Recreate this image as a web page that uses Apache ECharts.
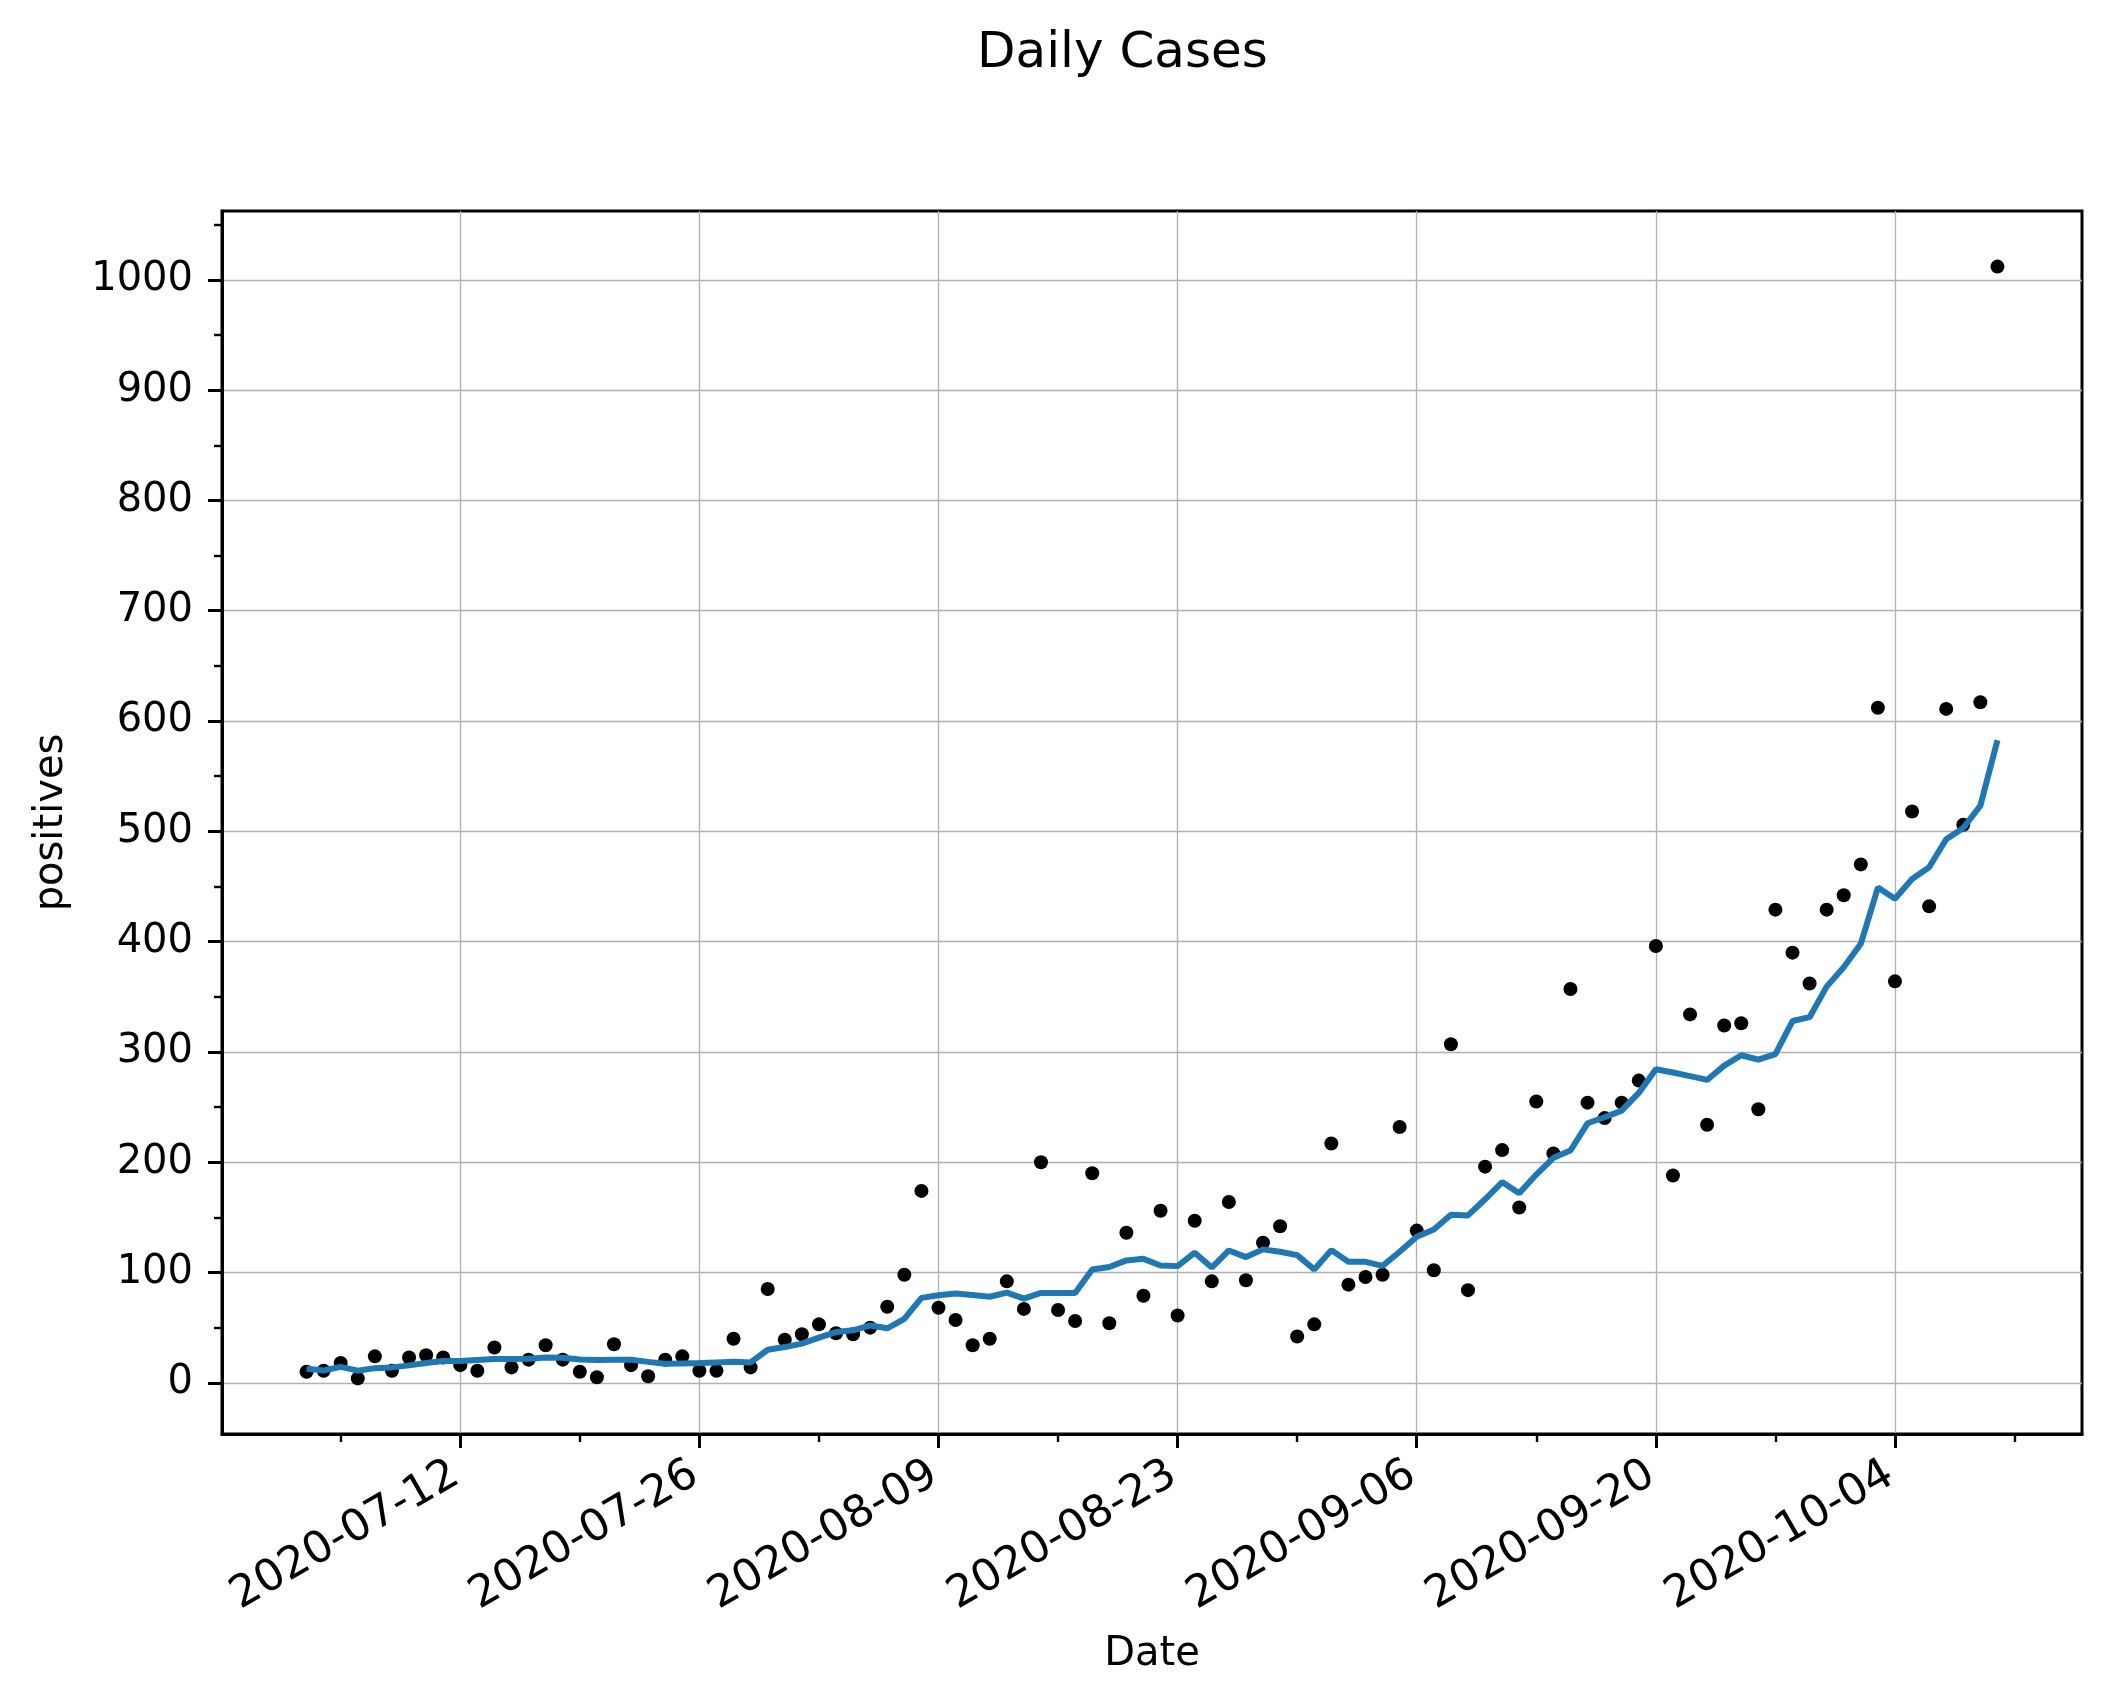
<!DOCTYPE html>
<html>
<head>
<meta charset="utf-8">
<script src="https://cdn.jsdelivr.net/npm/echarts@6/dist/echarts.min.js"></script>
<style>html,body{margin:0;padding:0;background:#fff}#c{width:2111px;height:1705px}</style>
</head>
<body>
<div id="c"></div>
<script>
const dates = [
'2020-07-03','2020-07-04','2020-07-05','2020-07-06','2020-07-07','2020-07-08','2020-07-09','2020-07-10','2020-07-11','2020-07-12',
'2020-07-13','2020-07-14','2020-07-15','2020-07-16','2020-07-17','2020-07-18','2020-07-19','2020-07-20','2020-07-21','2020-07-22',
'2020-07-23','2020-07-24','2020-07-25','2020-07-26','2020-07-27','2020-07-28','2020-07-29','2020-07-30','2020-07-31',
'2020-08-01','2020-08-02','2020-08-03','2020-08-04','2020-08-05','2020-08-06','2020-08-07','2020-08-08','2020-08-09','2020-08-10',
'2020-08-11','2020-08-12','2020-08-13','2020-08-14','2020-08-15','2020-08-16','2020-08-17','2020-08-18','2020-08-19','2020-08-20',
'2020-08-21','2020-08-22','2020-08-23','2020-08-24','2020-08-25','2020-08-26','2020-08-27','2020-08-28','2020-08-29','2020-08-30',
'2020-08-31',
'2020-09-01','2020-09-02','2020-09-03','2020-09-04','2020-09-05','2020-09-06','2020-09-07','2020-09-08','2020-09-09','2020-09-10',
'2020-09-11','2020-09-12','2020-09-13','2020-09-14','2020-09-15','2020-09-16','2020-09-17','2020-09-18','2020-09-19','2020-09-20',
'2020-09-21','2020-09-22','2020-09-23','2020-09-24','2020-09-25','2020-09-26','2020-09-27','2020-09-28','2020-09-29','2020-09-30',
'2020-10-01','2020-10-02','2020-10-03','2020-10-04','2020-10-05','2020-10-06','2020-10-07','2020-10-08','2020-10-09','2020-10-10'
];
const positives = [
10,11,18,4,24,11,23,25,23,16,
11,32,14,21,34,21,10,5,35,16,
6,21,24,11,11,40,14,85,39,
44,53,45,44,50,69,98,174,68,57,
34,40,92,67,200,66,56,190,54,136,
79,156,61,147,92,164,93,127,142,42,
53,
217,89,96,98,232,138,102,307,84,196,
211,159,255,208,357,254,240,254,274,396,
188,334,234,324,326,248,429,390,362,429,
442,470,612,364,518,432,611,506,617,1012
];
const rolling7 = [
12.7,11.2,14.5,11,13.3,14,15.8,18,19.7,19.7,
20.6,21.5,21.5,21.8,23,22.7,21.2,20.6,20.9,20.9,
19,17.3,17.6,17.9,18.5,19,18.5,30,32.4,
35.5,41,46,47.6,52,49.4,58,77,79.4,81,
79.7,78,81.8,76.4,81.5,81.5,81.5,102.7,105,111,
112.4,106.4,105.8,118,104.5,120,114,121,118.8,115.8,
102.7,
120.3,109.7,109.7,106,118.8,132.4,139,152.4,151.8,166.4,
182,171.8,188.8,204,210.6,235.3,240.8,246.8,262.8,284.3,
281.3,278.1,274.6,287.6,297,293,298,328,331.5,359.2,
376.8,398,449,438.8,456.8,467.4,492.8,503,523.3,582.5
];
const xTickDates = ['2020-07-12','2020-07-26','2020-08-09','2020-08-23','2020-09-06','2020-09-20','2020-10-04'];
const xMinorTickDates = ['2020-07-05','2020-07-19','2020-08-02','2020-08-16','2020-08-30','2020-09-13','2020-09-27','2020-10-11'];
const yTicks = [0,100,200,300,400,500,600,700,800,900,1000];
const yMinorTicks = [50,150,250,350,450,550,650,750,850,950,1050];

const DAY = 86400000;
const BASE = Date.parse('2020-07-12T00:00:00Z');
function dayNum(s){ return (Date.parse(s + 'T00:00:00Z') - BASE) / DAY; }
function toDate(v){ return new Date(BASE + Math.round(v) * DAY).toISOString().slice(0,10); }

const xs = dates.map(dayNum);
const xLo = Math.min.apply(null, xs), xHi = Math.max.apply(null, xs);
const xMin = xLo - 0.05 * (xHi - xLo), xMax = xHi + 0.05 * (xHi - xLo);
const allY = positives.concat(rolling7);
const yLo = Math.min.apply(null, allY), yHi = Math.max.apply(null, allY);
const yMin = yLo - 0.05 * (yHi - yLo), yMax = yHi + 0.05 * (yHi - yLo);

const FONT = 'DejaVu Sans';
const chart = echarts.init(document.getElementById('c'), null, {renderer:'canvas', width:2111, height:1705});
chart.setOption({
  animation:false,
  backgroundColor:'#ffffff',
  textStyle:{fontFamily:FONT},
  title:{text:'Daily Cases', left:977, top:29, padding:0,
    textStyle:{fontFamily:FONT, fontSize:50, fontWeight:'normal', color:'#000'}},
  grid:{left:222, right:29, top:211, bottom:271, show:true, borderColor:'#000', borderWidth:3,
    backgroundColor:'transparent', containLabel:false, outerBoundsMode:'none'},
  xAxis:[{
    type:'value', min:xMin, max:xMax, position:'bottom',
    name:'Date', nameLocation:'middle', nameGap:201, nameMoveOverlap:false,
    nameTextStyle:{fontFamily:FONT, fontSize:40, color:'#000'},
    axisLine:{show:true, onZero:false, lineStyle:{color:'#000', width:3}},
    axisTick:{show:true, length:14, lineStyle:{color:'#000', width:3}, customValues:xTickDates.map(dayNum)},
    axisLabel:{show:true, customValues:xTickDates.map(dayNum), rotate:30, margin:35, padding:[0,5,0,0],
      fontFamily:FONT, fontSize:44, color:'#000', formatter:function(v){return toDate(v);}},
    splitLine:{show:true, lineStyle:{color:'#b0b0b0', width:1.3}}
  },{
    type:'value', min:xMin, max:xMax, position:'bottom',
    axisLine:{show:false, onZero:false},
    axisTick:{show:true, length:8, lineStyle:{color:'#000', width:2.4}, customValues:xMinorTickDates.map(dayNum)},
    axisLabel:{show:false}, splitLine:{show:false}
  }],
  yAxis:[{
    type:'value', min:yMin, max:yMax, position:'left',
    name:'positives', nameLocation:'middle', nameGap:150, nameMoveOverlap:false,
    nameTextStyle:{fontFamily:FONT, fontSize:40, color:'#000'},
    axisLine:{show:true, onZero:false, lineStyle:{color:'#000', width:3}},
    axisTick:{show:true, length:14, lineStyle:{color:'#000', width:3}, customValues:yTicks},
    axisLabel:{show:true, customValues:yTicks, margin:29, fontFamily:FONT, fontSize:40, color:'#000',
      formatter:function(v){return String(Math.round(v));}},
    splitLine:{show:true, lineStyle:{color:'#b0b0b0', width:1.3}}
  },{
    type:'value', min:yMin, max:yMax, position:'left',
    axisLine:{show:false, onZero:false},
    axisTick:{show:true, length:8, lineStyle:{color:'#000', width:2.4}, customValues:yMinorTicks},
    axisLabel:{show:false}, splitLine:{show:false}
  }],
  series:[{
    type:'scatter', xAxisIndex:0, yAxisIndex:0,
    data:dates.map(function(d,i){return [dayNum(d), positives[i]];}),
    symbol:'circle', symbolSize:14, itemStyle:{color:'#000', opacity:1}, z:2
  },{
    type:'line', xAxisIndex:0, yAxisIndex:0,
    data:dates.map(function(d,i){return [dayNum(d), rolling7[i]];}),
    showSymbol:false, symbol:'none', lineStyle:{color:'#1f77b4', width:6}, itemStyle:{color:'#1f77b4'}, z:3
  }]
});
</script>
</body>
</html>
